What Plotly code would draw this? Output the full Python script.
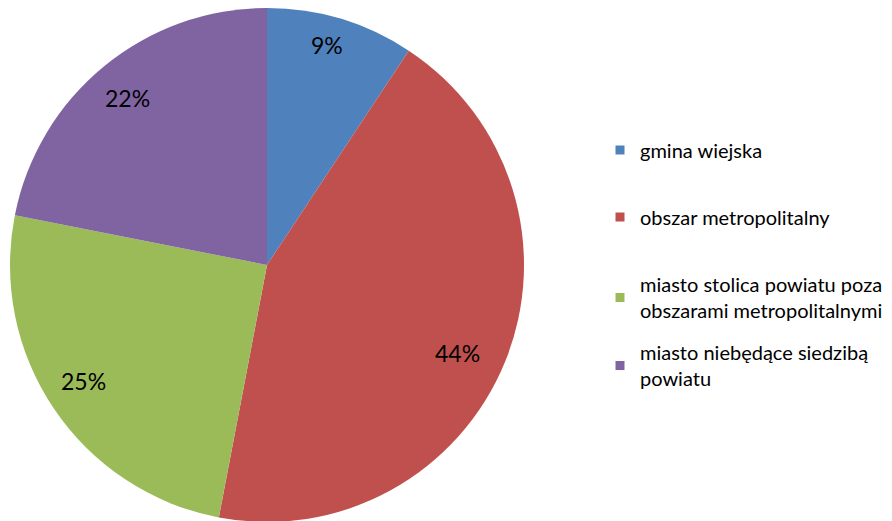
import math
import plotly.graph_objects as go

categories = ["gmina wiejska", "obszar metropolitalny",
              "miasto stolica powiatu poza<br>obszarami metropolitalnymi",
              "miasto niebędące siedzibą<br>powiatu"]
values = [9.3, 43.7, 25.1, 21.9]
colors = ["#4F81BD", "#C0504D", "#9BBB59", "#8064A2"]

FONT = "Lato"
W, H = 892, 521
# pie geometry (figure px) -- the page body adds an 8px offset
CX, CY, R = 259, 257, 257
label_radius = [0.88, 0.82, 0.85, 0.84]
label_angle_offset = [-1.3, 3.0, 1.3, -0.9]
legend_y_px = [142, 209, 289.5, 357.5]

fig = go.Figure()
fig.add_trace(go.Pie(
    labels=categories, values=values, sort=False, direction="clockwise",
    rotation=0, marker=dict(colors=colors, line=dict(width=0)),
    textinfo="none", showlegend=False, hoverinfo="label+percent",
    domain=dict(x=[(CX - R) / W, (CX + R) / W], y=[1 - (CY + R) / H, 1]),
))

total = sum(values)
cum = 0
for v, k, da in zip(values, label_radius, label_angle_offset):
    mid = (cum + v / 2) / total * 2 * math.pi + math.radians(da)
    cum += v
    x = CX + k * R * math.sin(mid)
    y = CY - k * R * math.cos(mid) - 2
    fig.add_annotation(x=x / W, y=1 - y / H, xref="paper", yref="paper",
                       xanchor="center", yanchor="middle",
                       text=f"{round(v / total * 100)}%", showarrow=False,
                       font=dict(family=FONT, size=23, color="black"))

legend_layout = {}
for i, (c, col) in enumerate(zip(categories, colors)):
    lname = "legend" if i == 0 else f"legend{i + 1}"
    fig.add_trace(go.Scatter(x=[None], y=[None], mode="markers", name=c,
                             legend=lname,
                             marker=dict(symbol="square", size=9, color=col)))
    legend_layout[lname] = dict(
        x=592 / W, y=1 - legend_y_px[i] / H, xanchor="left", yanchor="middle",
        font=dict(family=FONT, size=20, color="black"),
        itemwidth=30, bgcolor="rgba(0,0,0,0)", borderwidth=0)

fig.update_layout(
    width=W, height=H, margin=dict(l=0, r=0, t=0, b=0),
    paper_bgcolor="white", plot_bgcolor="white",
    xaxis=dict(visible=False), yaxis=dict(visible=False),
    **legend_layout,
)
fig.write_html("out.html")
